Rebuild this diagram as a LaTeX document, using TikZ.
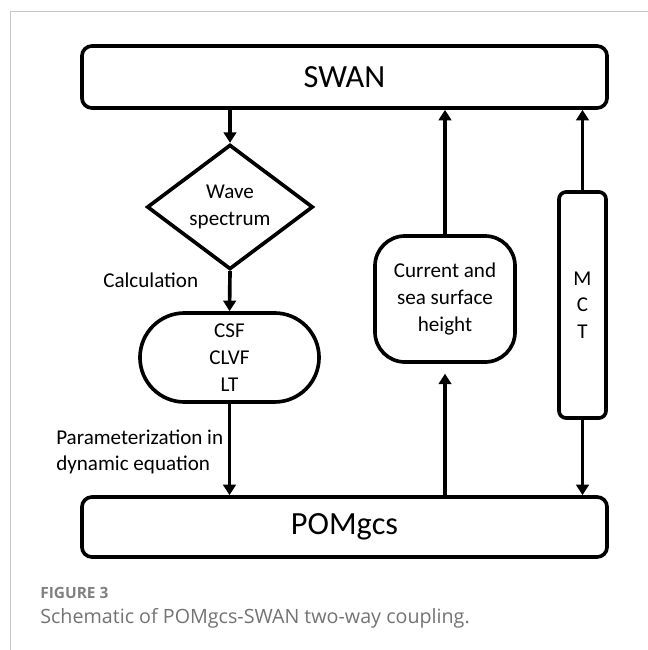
\documentclass[tikz,border=0pt]{standalone}
\usepackage{fontspec}
\setmainfont{Carlito}
\newfontfamily\capfont{Open Sans}
\usepackage{tikz}
\usetikzlibrary{arrows,arrows.meta,shapes.geometric,shapes.misc,positioning}

\begin{document}
\begin{tikzpicture}[x=0.025cm,y=-0.025cm,
  box/.style={draw,line width=2.6pt,rounded corners=0.25cm,inner sep=0pt},
  flow/.style={line width=2.6pt,-{Triangle[width=9pt,length=7.5pt]}},
  txt/.style={font=\fontsize{15}{19}\selectfont,align=center},
  big/.style={font=\fontsize{23}{27}\selectfont}]
%\draw[help lines] (0,0) grid[step=50] (648,650);
\useasboundingbox (0,0) rectangle (648,650);
\draw[black!22,line width=0.7pt] (10,650) -- (10,11.5) -- (648,11.5);
%
\node[box,big,minimum width=13.125cm,minimum height=1.55cm] (swan) at (344.5,77) {SWAN};
\node[box,big,minimum width=13.125cm,minimum height=1.5cm] (pom) at (344.5,527) {POMgcs};
%
\node[draw,diamond,line width=2.6pt,txt,inner sep=0pt,minimum width=4.15cm,minimum height=2.4cm] (wave) at (230,207) {Wave\\spectrum};
\node[draw,rounded rectangle,line width=2.6pt,txt,inner sep=0pt,minimum width=4.475cm,minimum height=2.225cm] (forces) at (229.5,357.5) {CSF\\CLVF\\LT};
\node[box,txt,rounded corners=0.75cm,minimum width=3.5cm,minimum height=3.15cm] (current) at (445,299) {Current and\\sea surface\\height};
\node[box,txt,rounded corners=0.18cm,minimum width=1.175cm,minimum height=5.65cm] (mct) at (582.5,305) {M\\C\\T};
%
\node[txt,anchor=west,inner sep=0pt] (calc) at (103,280) {Calculation};
\node[txt,anchor=west,align=left,inner sep=0pt] (param) at (56,452) {Parameterization in\\dynamic equation};
%
\draw[flow] (wave.north |- swan.south) -- (wave.north);
\draw[flow] (wave.south) -- (forces.north);
\draw[flow] (forces.south) -- (forces.south |- pom.north);
\draw[flow,shorten >=7] (current.south |- pom.north) -- (current.south);
\draw[flow] (current.north) -- (current.north |- swan.south);
\draw[flow] (mct.north) -- (mct.north |- swan.south);
\draw[flow] (mct.south) -- (mct.south |- pom.north);
%
\node[anchor=west,inner sep=0pt,text=black!50,font=\capfont\bfseries\fontsize{11}{13}\selectfont] (fig) at (40,593) {FIGURE 3};
\node[anchor=west,inner sep=0pt,text=black!55,font=\capfont\fontsize{14}{16}\selectfont] (cap) at (40,618) {Schematic of POMgcs-SWAN two-way coupling.};
\end{tikzpicture}
\end{document}
